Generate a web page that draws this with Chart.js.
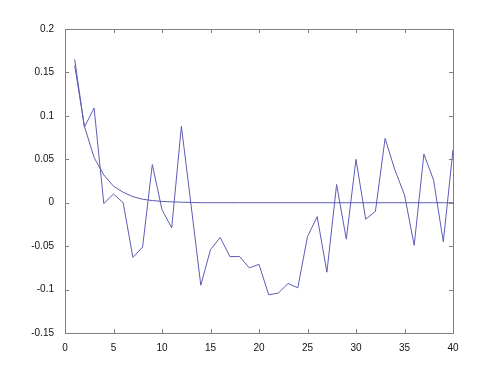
<!DOCTYPE html>
<html>
<head>
<meta charset="utf-8">
<script src="https://cdn.jsdelivr.net/npm/chart.js@4"></script>
<style>
    html, body { margin: 0; padding: 0; background: #fff; }
    #graph-display { display: block; }
</style>
</head>
<body>
<canvas id="graph-display" width="500" height="374"></canvas>
<script>
// lags 1..40
const lags = [1, 2, 3, 4, 5, 6, 7, 8, 9, 10,
    11, 12, 13, 14, 15, 16, 17, 18, 19, 20,
    21, 22, 23, 24, 25, 26, 27, 28, 29, 30,
    31, 32, 33, 34, 35, 36, 37, 38, 39, 40];

// jagged series
const sampleValues = [0.165, 0.087, 0.109, -0.001, 0.010, 0.000, -0.063, -0.051, 0.044, -0.008,
    -0.029, 0.088, -0.003, -0.095, -0.054, -0.040, -0.062, -0.062, -0.075, -0.071,
    -0.106, -0.104, -0.093, -0.098, -0.039, -0.016, -0.080, 0.021, -0.042, 0.050,
    -0.019, -0.010, 0.074, 0.038, 0.009, -0.049, 0.056, 0.026, -0.045, 0.061];

// smooth decaying curve
const smoothValues = [0.158, 0.088, 0.052, 0.032, 0.019, 0.012, 0.007, 0.004, 0.0025, 0.0015,
    0.001, 0.0006, 0.0003, 0, 0, 0, 0, 0, 0, 0,
    0, 0, 0, 0, 0, 0, 0, 0, 0, 0,
    0, 0, 0, 0, 0, 0, 0, 0, 0, 0];

const xTickLabels = ['0', '5', '10', '15', '20', '25', '30', '35', '40'];
const yTickLabels = ['-0.15', '-0.1', '-0.05', '0', '0.05', '0.1', '0.15', '0.2'];

const lineColour = 'rgb(92, 92, 182)';
const axisColour = '#808080';

const toPoints = (values) => lags.map((lag, i) => ({ x: lag, y: values[i] }));

// matlab style box with ticks pointing inwards on all four sides
const boxPlugin = {
    id: 'matlabBox',
    afterDraw: (chart) => {
        const ctx = chart.ctx;
        const area = chart.chartArea;
        const tickLen = 4;
        ctx.save();
        ctx.strokeStyle = axisColour;
        ctx.lineWidth = 1;
        ctx.beginPath();
        ctx.rect(Math.round(area.left) + 0.5, Math.round(area.top) + 0.5,
            Math.round(area.right - area.left), Math.round(area.bottom - area.top));

        chart.scales.x.ticks.forEach(t => {
            const px = Math.round(chart.scales.x.getPixelForValue(t.value)) + 0.5;
            ctx.moveTo(px, area.bottom);
            ctx.lineTo(px, area.bottom - tickLen);
            ctx.moveTo(px, area.top);
            ctx.lineTo(px, area.top + tickLen);
        });
        chart.scales.y.ticks.forEach(t => {
            const py = Math.round(chart.scales.y.getPixelForValue(t.value)) + 0.5;
            ctx.moveTo(area.left, py);
            ctx.lineTo(area.left + tickLen, py);
            ctx.moveTo(area.right, py);
            ctx.lineTo(area.right - tickLen, py);
        });
        ctx.stroke();
        ctx.restore();
    }
};

const config = {
    type: 'line',
    data: {
        datasets: [
            {
                label: 'sample',
                data: toPoints(sampleValues),
                borderColor: lineColour,
                borderWidth: 1,
                tension: 0
            },
            {
                label: 'smooth',
                data: toPoints(smoothValues),
                borderColor: lineColour,
                borderWidth: 1,
                tension: 0
            }
        ]
    },
    options: {
        responsive: false,
        animation: false,
        layout: {
            padding: { left: 0, right: 47, top: 29, bottom: 0 }
        },
        plugins: {
            legend: { display: false },
            tooltip: { enabled: false }
        },
        elements: {
            point: { radius: 0 }
        },
        scales: {
            x: {
                type: 'linear',
                min: 0,
                max: 40,
                ticks: {
                    stepSize: 5,
                    maxRotation: 0,
                    padding: 1,
                    color: '#111',
                    font: { family: 'Liberation Sans', size: 10 },
                    callback: (value, index) => xTickLabels[index]
                },
                grid: { display: false },
                border: { display: false },
                afterFit: (scale) => { scale.height = 41; }
            },
            y: {
                type: 'linear',
                min: -0.15,
                max: 0.2,
                ticks: {
                    stepSize: 0.05,
                    padding: 3,
                    color: '#111',
                    font: { family: 'Liberation Sans', size: 10 },
                    callback: (value, index) => yTickLabels[index]
                },
                grid: { display: false },
                border: { display: false },
                afterFit: (scale) => { scale.width = 65; }
            }
        }
    },
    plugins: [boxPlugin]
};

new Chart(document.getElementById('graph-display'), config);
</script>
</body>
</html>
